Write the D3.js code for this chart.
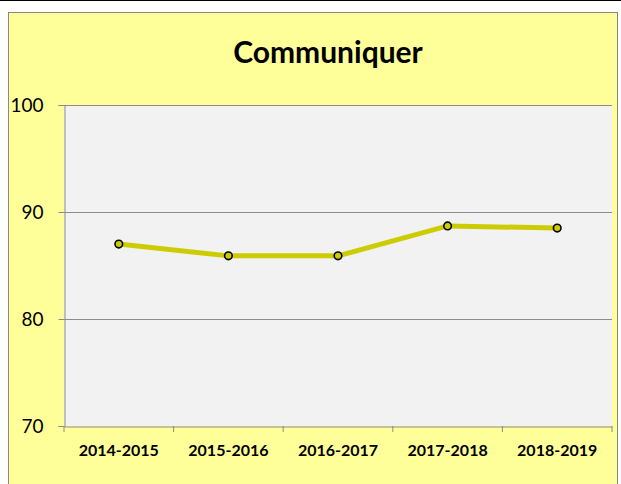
<!DOCTYPE html>
<html>
<head>
<meta charset="utf-8">
<script src="https://cdn.jsdelivr.net/npm/d3@7"></script>
<style>
  body { margin: 0; background: #fff; }
  svg { display: block; }
</style>
</head>
<body>
<svg id="chart" width="621" height="484"></svg>
<script>
const years = ["2014-2015", "2015-2016", "2016-2017", "2017-2018", "2018-2019"]
const scores = [87.0, 85.9, 85.9, 88.7, 88.5]
const yTicks = [70, 80, 90, 100]

const width = 621, height = 484
const plot = { left: 64, top: 105, right: 612, bottom: 426 }
const font = "Lato, 'Open Sans', sans-serif"

const svg = d3.select("#chart")

// ligne noire en haut de la page
svg.append("line")
  .attr("x1", 0).attr("x2", width).attr("y1", 0.5).attr("y2", 0.5)
  .style("stroke", "#000").style("stroke-width", 1)

// cadre du graphique
svg.append("rect")
  .attr("x", 8.5).attr("y", 12.5)
  .attr("width", 609).attr("height", height)
  .style("fill", "#ffff99").style("stroke", "#888").style("stroke-width", 1)

svg.append("text")
  .attr("x", 328).attr("y", 63)
  .attr("text-anchor", "middle")
  .style("font-family", font).style("font-weight", "bold").style("font-size", "30px")
  .text("Communiquer")

const x = d3.scaleBand().domain(years).range([plot.left, plot.right])
const y = d3.scaleLinear().domain([70, 100]).range([plot.bottom, plot.top])

// zone de traçage
svg.append("rect")
  .attr("x", plot.left).attr("y", plot.top)
  .attr("width", plot.right - plot.left).attr("height", plot.bottom - plot.top)
  .style("fill", "#f2f2f2")

// quadrillage
svg.append("g")
  .selectAll("line")
  .data(yTicks.filter(d => d > 70))
  .join("line")
  .attr("x1", plot.left).attr("x2", plot.right)
  .attr("y1", d => Math.round(y(d)) + 0.5).attr("y2", d => Math.round(y(d)) + 0.5)
  .style("stroke", "#8c8c8c").style("stroke-width", 1.2)

// axe Y
const yAxis = svg.append("g")
  .attr("transform", `translate(${plot.left + 0.5},0)`)
  .call(d3.axisLeft(y).tickValues(yTicks).tickSize(6).tickPadding(15))
yAxis.select(".domain").style("stroke", "#8c8c8c")
yAxis.selectAll(".tick line").style("stroke", "#8c8c8c")
yAxis.selectAll("text")
  .style("font-family", font).style("font-size", "19px").style("fill", "#000")

// axe X
const xAxis = svg.append("g")
  .attr("transform", `translate(0,${plot.bottom + 0.5})`)
  .call(d3.axisBottom(x).tickSize(0).tickPadding(18))
xAxis.select(".domain").style("stroke", "#8c8c8c").style("stroke-width", 1.2)
xAxis.selectAll("text")
  .style("font-family", font).style("font-weight", "bold").style("font-size", "16px").style("fill", "#000")

// graduations entre catégories
svg.append("g")
  .selectAll("line")
  .data([...years.map(d => x(d)), plot.right])
  .join("line")
  .attr("x1", d => d).attr("x2", d => d)
  .attr("y1", plot.bottom).attr("y2", plot.bottom + 6)
  .style("stroke", "#8c8c8c").style("stroke-width", 1)

const cx = d => x(d) + x.bandwidth() / 2

const line = d3.line()
  .x((d, i) => cx(years[i]))
  .y(d => y(d))

svg.append("path")
  .datum(scores)
  .attr("d", line)
  .style("fill", "none").style("stroke", "#cccc00").style("stroke-width", 5)

svg.append("g")
  .selectAll("circle")
  .data(scores)
  .join("circle")
  .attr("cx", (d, i) => cx(years[i]))
  .attr("cy", d => y(d))
  .attr("r", 3.8)
  .style("fill", "#cccc00").style("stroke", "#000").style("stroke-width", 1.6)
</script>
</body>
</html>
